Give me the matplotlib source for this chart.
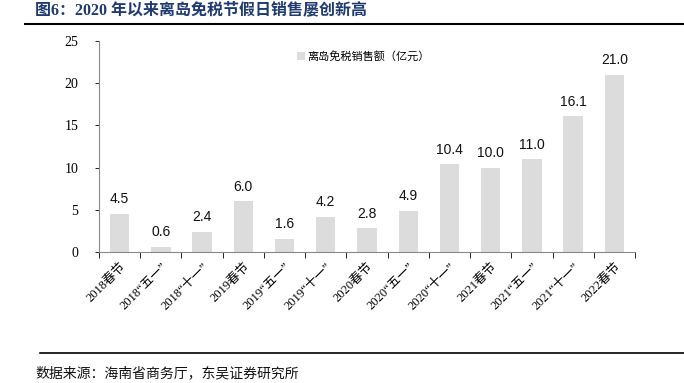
import matplotlib
matplotlib.use('Agg')
import matplotlib.pyplot as plt
import numpy as np

plt.rcParams['font.family'] = ['Liberation Serif', 'Noto Sans CJK SC']

categories = ['2018春节', '2018“五一”', '2018“十一”', '2019春节', '2019“五一”',
              '2019“十一”', '2020春节', '2020“五一”', '2020“十一”', '2021春节',
              '2021“五一”', '2021“十一”', '2022春节']
sales = [4.5, 0.6, 2.4, 6.0, 1.6, 4.2, 2.8, 4.9, 10.4, 10.0, 11.0, 16.1, 21.0]
series_name = '离岛免税销售额（亿元）'
yticks = [0, 5, 10, 15, 20, 25]

fig = plt.figure(figsize=(6.84, 3.83), dpi=100)
ax = fig.add_axes([0.1447, 0.342, 0.7837, 0.551])

x = np.arange(len(categories))
bars = ax.bar(x, sales, width=0.47, color='#dcdcdc', label=series_name, zorder=2)
for xi, v in zip(x, sales):
    ax.text(xi, v + 0.9, f'{v:.1f}', ha='center', va='bottom', fontsize=10,
            family=['Liberation Sans'], color='#111111')

ax.set_xlim(-0.5, len(categories) - 0.5)
ax.set_ylim(0, 25)
ax.set_yticks(yticks)
ax.tick_params(axis='y', length=3, width=0.6, labelsize=10, pad=12)
ax.set_xticks(x)
ax.set_xticklabels(categories, rotation=45, ha='right', rotation_mode='anchor', fontsize=9)
ax.tick_params(axis='x', length=0, pad=6)
ax.set_xticks(np.arange(-0.5, len(categories)), minor=True)
ax.tick_params(axis='x', which='minor', length=4, width=0.6, direction='out')
for s in ['top', 'right']:
    ax.spines[s].set_visible(False)
for s in ['left', 'bottom']:
    ax.spines[s].set_color('#888888')
    ax.spines[s].set_linewidth(0.8)

leg = ax.legend(loc='upper left', bbox_to_anchor=(0.35, 1.0), frameon=False,
                prop={'family': ['Noto Sans CJK SC'], 'size': 8},
                handlelength=0.8, handleheight=0.8, handletextpad=0.2)

fig.text(35 / 684, 1 - 10 / 383, '图6：2020 年以来离岛免税节假日销售屡创新高', fontsize=11.5,
         fontweight='bold', color='#1f3a6e', va='center', ha='left')
fig.add_artist(plt.Line2D([25 / 684, 1.0], [1 - 24 / 383] * 2, color='black', lw=1.5))
fig.add_artist(plt.Line2D([40 / 684, 1.0], [1 - 353 / 383] * 2, color='black', lw=1.2))
fig.text(35 / 684, 1 - 373 / 383, '数据来源：海南省商务厅，东吴证券研究所', fontsize=10,
         va='center', ha='left', color='#111111')

fig.savefig('out.png', dpi=100)
